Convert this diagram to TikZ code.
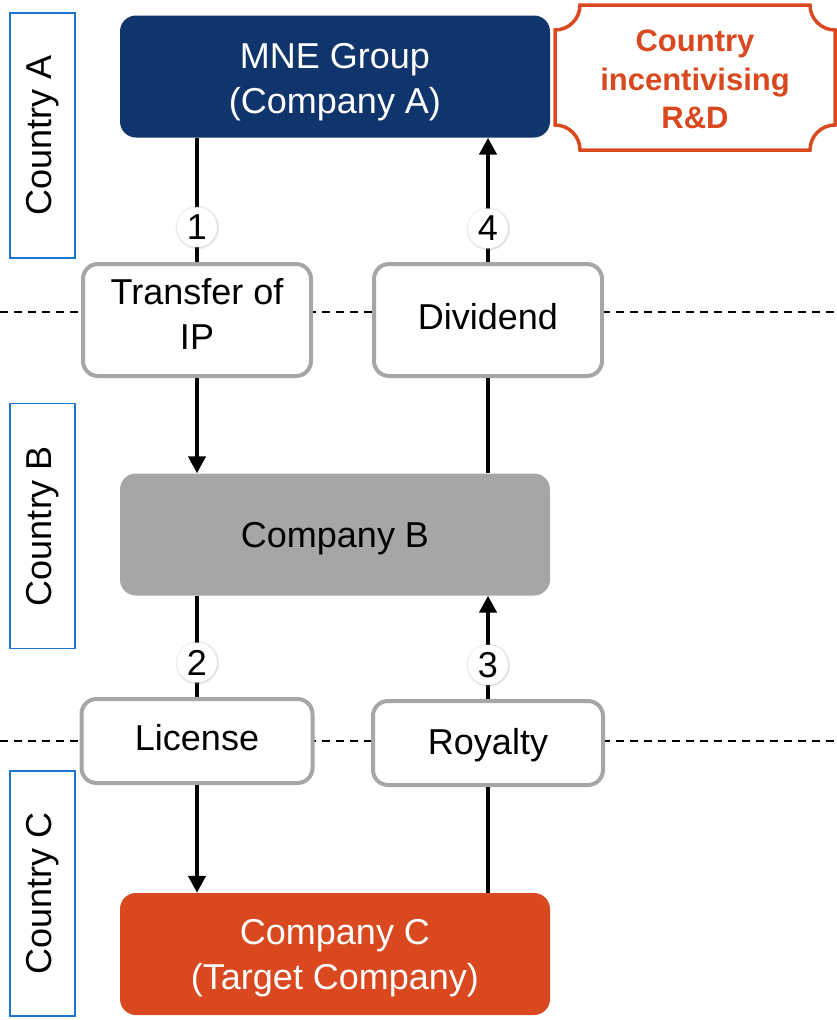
\documentclass[tikz,border=0pt]{standalone}
\usepackage{fontspec}
\setmainfont{Liberation Sans}
\usetikzlibrary{arrows.meta,shadows}
\definecolor{navy}{HTML}{10356C}
\definecolor{rust}{HTML}{D9481E}
\definecolor{midgray}{HTML}{A6A6A6}
\definecolor{edgeblue}{HTML}{1C75CF}
% stacked text lines, moved inside an unchanged extent so the capitals sit on the node centre
\newcommand\textlines[2][-4pt]{\raisebox{#1}[\height][\depth]{\begin{tabular}{@{}c@{}}#2\end{tabular}}}
\begin{document}
\begin{tikzpicture}[x=1pt,y=-1pt,
  txt/.style={font=\fontsize{36}{45}\selectfont, inner sep=0pt},
  entity/.style={txt, rounded corners=16pt, minimum width=430pt, minimum height=122pt},
  flowbox/.style={txt, draw=midgray, line width=4pt, fill=white, rounded corners=15pt},
  countrybox/.style={draw=edgeblue, line width=1.8pt, fill=white, rotate=90,
    minimum width=245pt, minimum height=65pt, inner sep=0pt,
    font=\fontsize{36}{44}\selectfont},
  flow/.style={line width=4.5pt, black},
  tipend/.style={-{Triangle[width=17pt,length=17pt]}},
  num/.style={circle, fill=white, inner sep=0pt, minimum size=40pt,
    font=\fontsize{36}{36}\selectfont,
    circular drop shadow={shadow xshift=0pt, shadow yshift=0pt, shadow scale=1.12, opacity=0.35}},
  sep/.style={dashed, line width=1.5pt, dash pattern=on 8pt off 6pt}
]
\useasboundingbox (0,0) rectangle (837,1020);

% border separators between countries
\coordinate (s1l) at (0,312);   \coordinate (s1r) at (837,312);
\coordinate (s2l) at (0,741);   \coordinate (s2r) at (837,741);
\draw[sep] (s1l) -- (s1r);
\draw[sep] (s2l) -- (s2r);

% country labels
\node[countrybox] (ca) at (42.5,135.5) {Country A};
\node[countrybox] (cb) at (42.5,526) {Country B};
\node[countrybox] (cc) at (42.5,893.5) {Country C};

% group entities
\node[entity, fill=navy, text=white] (mne) at (335,76.5) {\textlines[-5pt]{MNE Group\\(Company A)}};
\node[entity, fill=midgray, text=black] (compB) at (335,534.5) {\textlines{Company B}};
\node[entity, fill=rust, text=white] (compC) at (335,954) {\textlines{Company C\\(Target Company)}};

% flows
\node[flowbox, minimum width=228pt, minimum height=112pt] (tip) at (197,320) {\textlines[2pt]{Transfer of\\IP}};
\node[flowbox, minimum width=228pt, minimum height=112pt] (div) at (488,320) {\textlines[0pt]{Dividend}};
\node[flowbox, minimum width=231pt, minimum height=84pt] (lic) at (197,741) {\textlines[0pt]{License}};
\node[flowbox, minimum width=230pt, minimum height=84pt] (roy) at (488,743) {\textlines[-2pt]{Royalty}};

% incentive plaque
\node[font=\bfseries\fontsize{31}{38.5}\selectfont, text=rust, inner sep=0pt] (rd) at (695,79)
  {\textlines[-3.6pt]{Country\\incentivising\\R\&D}};
\draw[rust, line width=3.5pt]
  (580,5) -- (810,5) arc[start angle=180, end angle=90, radius=25]
  -- (835,125) arc[start angle=270, end angle=180, radius=25]
  -- (580,150) arc[start angle=360, end angle=270, radius=25]
  -- (555,30) arc[start angle=90, end angle=0, radius=25] -- cycle;

% connectors
\draw[flow] (tip.north |- mne.south) -- node[num, pos=0.72] (n1) {1} (tip.north);
\draw[flow, tipend] (tip.south) -- (tip.south |- compB.north);
\draw[flow] (lic.north |- compB.south) -- node[num, pos=0.66] (n2) {2} (lic.north);
\draw[flow, tipend] (lic.south) -- (lic.south |- compC.north);
\draw[flow] (roy.south |- compC.north) -- (roy.south);
\draw[flow, tipend] (roy.north) -- node[num, pos=0.33] (n3) {3} (roy.north |- compB.south);
\draw[flow] (div.south |- compB.north) -- (div.south);
\draw[flow, tipend] (div.north) -- node[num, pos=0.27] (n4) {4} (div.north |- mne.south);
\end{tikzpicture}
\end{document}
